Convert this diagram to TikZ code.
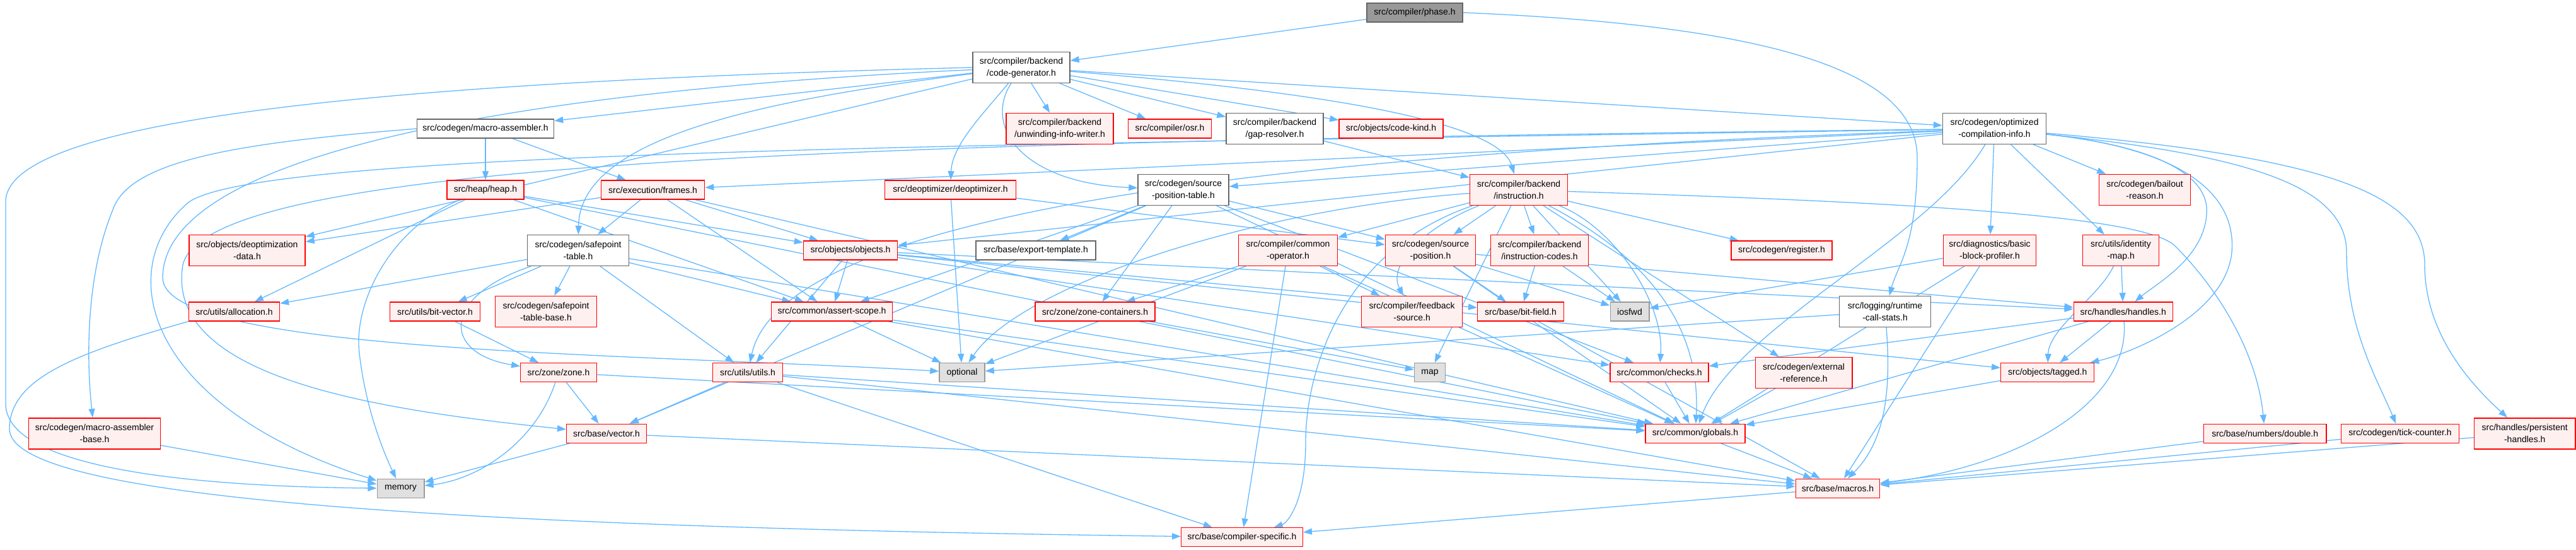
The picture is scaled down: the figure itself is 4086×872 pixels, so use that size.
\documentclass[tikz,border=0pt]{standalone}
\usepackage{fontspec}
\setmainfont{Liberation Sans}
\usetikzlibrary{arrows.meta}
\definecolor{edgeblue}{HTML}{63B8FF}
\definecolor{redfill}{HTML}{FFF0F0}
\definecolor{redline}{HTML}{FF0000}
\definecolor{greyline}{HTML}{666666}
\definecolor{extfill}{HTML}{E0E0E0}
\definecolor{extline}{HTML}{999999}
\definecolor{rootfill}{HTML}{999999}
\pgfdeclarelayer{bg}
\pgfsetlayers{bg,main}
\tikzset{
  nbase/.style={rectangle, inner sep=0pt, line width=1.4pt, align=center,
    font=\fontsize{14}{19}\selectfont, minimum height=30pt},
  tall/.style={minimum height=49pt},
  rednode/.style={nbase, draw=redline, fill=redfill},
  docnode/.style={nbase, draw=greyline, fill=white},
  extnode/.style={nbase, draw=extline, fill=extfill},
  rootnode/.style={nbase, draw=greyline, fill=rootfill},
  lnk/.style={draw=edgeblue, line width=1.3pt, -{Triangle[length=14pt,width=10pt]}},
}
\begin{document}
\begin{tikzpicture}[x=1pt,y=-1pt]
\useasboundingbox (0,0) rectangle (4086,872);
% row 1
\node[rootnode, minimum width=152pt] (phase) at (2244,20) {src/compiler/phase.h};
% row 2
\node[docnode, tall, minimum width=154pt] (codegen) at (1620,107) {src/compiler/backend\\/code-generator.h};
% row 3
\node[docnode, minimum width=217pt] (macroasm) at (770,204) {src/codegen/macro-assembler.h};
\node[rednode, tall, minimum width=170pt] (unwind) at (1681,204) {src/compiler/backend\\/unwinding-info-writer.h};
\node[rednode, minimum width=132pt] (osr) at (1855.5,204) {src/compiler/osr.h};
\node[docnode, tall, minimum width=154pt] (gapres) at (2022,204) {src/compiler/backend\\/gap-resolver.h};
\node[rednode, minimum width=165pt] (codekind) at (2206.5,204) {src/objects/code-kind.h};
\node[docnode, tall, minimum width=164pt] (optinfo) at (3163.5,204) {src/codegen/optimized\\-compilation-info.h};
% row 4
\node[rednode, minimum width=122pt] (heap) at (770,301) {src/heap/heap.h};
\node[rednode, minimum width=164pt] (frames) at (1035.6,301) {src/execution/frames.h};
\node[rednode, minimum width=207.5pt] (deopt) at (1507.5,301) {src/deoptimizer/deoptimizer.h};
\node[docnode, tall, minimum width=144pt] (spt) at (1877,301) {src/codegen/source\\-position-table.h};
\node[rednode, tall, minimum width=155pt] (instr) at (2409,301) {src/compiler/backend\\/instruction.h};
\node[rednode, tall, minimum width=145pt] (bailout) at (3402,301) {src/codegen/bailout\\-reason.h};
% row 5
\node[rednode, tall, minimum width=184pt] (deoptdata) at (392,397) {src/objects/deoptimization\\-data.h};
\node[docnode, tall, minimum width=161pt] (safepoint) at (917,397) {src/codegen/safepoint\\-table.h};
\node[rednode, minimum width=149pt] (objects) at (1349,397) {src/objects/objects.h};
\node[docnode, minimum width=190pt] (exporttpl) at (1643,397) {src/base/export-template.h};
\node[rednode, tall, minimum width=157pt] (operator) at (2043,397) {src/compiler/common\\-operator.h};
\node[rednode, tall, minimum width=143pt] (srcpos) at (2269,397) {src/codegen/source\\-position.h};
\node[rednode, tall, minimum width=154.5pt] (instrcodes) at (2442,397) {src/compiler/backend\\/instruction-codes.h};
\node[rednode, minimum width=160pt] (register) at (2826,397) {src/codegen/register.h};
\node[rednode, tall, minimum width=146.5pt] (bbprof) at (3156,397) {src/diagnostics/basic\\-block-profiler.h};
\node[rednode, tall, minimum width=121pt] (idmap) at (3364,397) {src/utils/identity\\-map.h};
% row 6
\node[rednode, minimum width=144pt] (alloc) at (371.5,494) {src/utils/allocation.h};
\node[rednode, minimum width=143pt] (bitvec) at (690,494) {src/utils/bit-vector.h};
\node[rednode, tall, minimum width=161pt] (sptbase) at (866,494) {src/codegen/safepoint\\-table-base.h};
\node[rednode, minimum width=192.5pt] (assert) at (1319.5,494) {src/common/assert-scope.h};
\node[rednode, minimum width=190pt] (zonecont) at (1737,494) {src/zone/zone-containers.h};
\node[rednode, tall, minimum width=160pt] (feedback) at (2239.6,494) {src/compiler/feedback\\-source.h};
\node[rednode, minimum width=136.6pt] (bitfield) at (2412,494) {src/base/bit-field.h};
\node[extnode, minimum width=61.6pt] (iosfwd) at (2585,494) {iosfwd};
\node[docnode, tall, minimum width=144.6pt] (rcs) at (2990,494) {src/logging/runtime\\-call-stats.h};
\node[rednode, minimum width=157pt] (handles) at (3367.7,494) {src/handles/handles.h};
% row 7
\node[rednode, minimum width=120.5pt] (zone) at (886,590.7) {src/zone/zone.h};
\node[rednode, minimum width=110.7pt] (utils) at (1186,590.7) {src/utils/utils.h};
\node[extnode, minimum width=72pt] (optional) at (1526,590.7) {optional};
\node[extnode, minimum width=49pt] (map) at (2268,590.7) {map};
\node[rednode, minimum width=156pt] (checks) at (2632,590.7) {src/common/checks.h};
\node[rednode, tall, minimum width=153.6pt] (extref) at (2861,590.7) {src/codegen/external\\-reference.h};
\node[rednode, minimum width=148pt] (tagged) at (3247.7,590.7) {src/objects/tagged.h};
% row 8
\node[rednode, tall, minimum width=208.5pt] (masmbase) at (150,687.3) {src/codegen/macro-assembler\\-base.h};
\node[rednode, minimum width=126.8pt] (vector) at (962,687.3) {src/base/vector.h};
\node[rednode, minimum width=157.8pt] (globals) at (2689,687.3) {src/common/globals.h};
\node[rednode, minimum width=194.6pt] (double) at (3592.7,687.3) {src/base/numbers/double.h};
\node[rednode, minimum width=186.6pt] (tick) at (3807,687.3) {src/codegen/tick-counter.h};
\node[rednode, tall, minimum width=160.7pt] (phandles) at (4004.7,687.3) {src/handles/persistent\\-handles.h};
% row 9
\node[extnode, minimum width=74.6pt] (memory) at (635.5,774.3) {memory};
\node[rednode, minimum width=133.5pt] (macros) at (2915,774.3) {src/base/macros.h};
% row 10
\node[rednode, minimum width=192.5pt] (compspec) at (1970,851.7) {src/base/compiler-specific.h};

\begin{pgfonlayer}{bg}
% phase
\draw[lnk] (phase) -- (codegen);
\draw[lnk] (phase.east) .. controls (2800,40) and (3041,110) .. (3041,250) .. controls (3041,390) and (3010,420) .. (rcs);
% code generator
\draw[lnk] (codegen) -- (macroasm);
\draw[lnk] (codegen) -- (unwind);
\draw[lnk] (codegen) -- (osr);
\draw[lnk] (codegen) -- (gapres);
\draw[lnk] (codegen) -- (codekind);
\draw[lnk] (codegen) -- (optinfo);
\draw[lnk] (codegen) .. controls (2150,150) and (2380,200) .. (instr);
\draw[lnk] (codegen) .. controls (1560,180) and (1510,230) .. (deopt);
\draw[lnk] (codegen) .. controls (1560,200) and (1620,290) .. (spt);
\draw[lnk] (codegen) .. controls (1200,160) and (920,220) .. (safepoint);
\draw[lnk] (codegen) -- (deoptdata);
\draw[lnk] (codegen.west) .. controls (600,130) and (9,190) .. (9,320) -- (9,640) .. controls (9,750) and (350,772) .. (memory);
\draw[lnk] (codegen) .. controls (900,140) and (260,230) .. (258,440) .. controls (258,560) and (1000,560) .. (optional);
% macro assembler
\draw[lnk] (macroasm) -- (heap);
\draw[lnk] (macroasm) -- (frames);
\draw[lnk] (macroasm.west) .. controls (400,225) and (210,250) .. (180,330) .. controls (130,450) and (140,600) .. (masmbase);
\draw[lnk] (gapres) -- (instr);
% optimized compilation info
\draw[lnk] (optinfo) -- (bailout);
\draw[lnk] (optinfo) -- (bbprof);
\draw[lnk] (optinfo) -- (idmap);
\draw[lnk] (optinfo) -- (spt);
\draw[lnk] (optinfo) -- (frames);
\draw[lnk] (optinfo) -- (objects);
\draw[lnk] (optinfo) .. controls (1400,225) and (330,250) .. (290,420) .. controls (260,600) and (600,650) .. (vector);
\draw[lnk] (optinfo) .. controls (1500,230) and (420,240) .. (300,320) .. controls (180,420) and (220,640) .. (memory);
\draw[lnk] (optinfo) .. controls (3450,235) and (3505,290) .. (3500,340) .. controls (3495,410) and (3420,450) .. (handles);
\draw[lnk] (optinfo) .. controls (3500,240) and (3546,330) .. (3540,400) .. controls (3530,500) and (3380,560) .. (tagged);
\draw[lnk] (optinfo) .. controls (3550,245) and (3722,290) .. (3722,400) .. controls (3722,520) and (3770,600) .. (tick);
\draw[lnk] (optinfo) .. controls (3700,250) and (3846,310) .. (3846,420) .. controls (3846,530) and (3920,610) .. (phandles);
\draw[lnk] (optinfo) .. controls (3060,380) and (2750,520) .. (globals);
\draw[lnk] (optinfo) .. controls (2300,235) and (1250,300) .. (utils);
% heap
\draw[lnk] (heap) -- (alloc);
\draw[lnk] (heap) .. controls (620,360) and (560,480) .. (570,560) .. controls (580,650) and (610,720) .. (memory);
\draw[lnk] (heap) -- (objects);
\draw[lnk] (heap) -- (assert);
\draw[lnk] (heap) -- (globals);
% frames
\draw[lnk] (frames) -- (deoptdata);
\draw[lnk] (frames) -- (safepoint);
\draw[lnk] (frames) -- (objects);
\draw[lnk] (frames) -- (assert);
\draw[lnk] (frames) -- (globals);
% deoptimizer
\draw[lnk] (deopt) -- (optional);
\draw[lnk] (deopt) -- (srcpos);
% source position table
\draw[lnk] (spt) -- (exporttpl);
\draw[lnk] (spt) -- (srcpos);
\draw[lnk] (spt) -- (assert);
\draw[lnk] (spt) -- (zonecont);
\draw[lnk] (spt) -- (vector);
\draw[lnk] (spt) -- (checks);
\draw[lnk] (spt) -- (globals);
% instruction
\draw[lnk] (instr) -- (operator);
\draw[lnk] (instr) -- (srcpos);
\draw[lnk] (instr) -- (instrcodes);
\draw[lnk] (instr) -- (register);
\draw[lnk] (instr) .. controls (2260,360) and (2200,420) .. (feedback);
\draw[lnk] (instr) -- (iosfwd);
\draw[lnk] (instr) -- (map);
\draw[lnk] (instr) .. controls (2000,330) and (1620,450) .. (optional);
\draw[lnk] (instr) .. controls (2120,400) and (2071,600) .. (2071,700) .. controls (2071,800) and (2040,830) .. (compspec);
\draw[lnk] (instr) .. controls (3000,320) and (3400,340) .. (3450,390) .. controls (3520,460) and (3580,560) .. (double);
\draw[lnk] (instr) -- (extref);
\draw[lnk] (instr) .. controls (2560,380) and (2700,480) .. (globals);
\draw[lnk] (instr) .. controls (2560,360) and (2640,480) .. (checks);
% operator
\draw[lnk] (operator) -- (compspec);
\draw[lnk] (operator) -- (globals);
\draw[lnk] (operator) -- (feedback);
\draw[lnk] (operator) -- (zonecont);
\draw[lnk] (operator) -- (optional);
% source position
\draw[lnk] (srcpos) -- (bitfield);
\draw[lnk] (srcpos) -- (iosfwd);
\draw[lnk] (srcpos) -- (globals);
\draw[lnk] (srcpos) -- (handles);
\draw[lnk] (instrcodes) -- (bitfield);
\draw[lnk] (instrcodes) -- (iosfwd);
% profiler, identity map
\draw[lnk] (bbprof) -- (iosfwd);
\draw[lnk] (bbprof) -- (globals);
\draw[lnk] (bbprof) -- (macros);
\draw[lnk] (idmap) -- (handles);
\draw[lnk] (idmap) .. controls (3330,470) and (3250,520) .. (tagged);
% safepoint table
\draw[lnk] (safepoint) -- (alloc);
\draw[lnk] (safepoint) -- (bitvec);
\draw[lnk] (safepoint) -- (sptbase);
\draw[lnk] (safepoint) -- (assert);
\draw[lnk] (safepoint) -- (utils);
\draw[lnk] (safepoint) .. controls (700,470) and (700,560) .. (zone);
\draw[lnk] (safepoint) -- (globals);
% objects
\draw[lnk] (objects) -- (assert);
\draw[lnk] (objects) -- (utils);
\draw[lnk] (objects) -- (bitfield);
\draw[lnk] (objects) -- (checks);
\draw[lnk] (objects) -- (tagged);
\draw[lnk] (objects) -- (handles);
% row 6
\draw[lnk] (alloc.south west) .. controls (120,560) and (15,600) .. (15,680) .. controls (15,790) and (700,835) .. (compspec);
\draw[lnk] (bitvec) -- (zone);
\draw[lnk] (assert) -- (optional);
\draw[lnk] (assert) -- (globals);
\draw[lnk] (assert) -- (macros);
\draw[lnk] (zonecont) -- (map);
\draw[lnk] (bitfield) -- (macros);
\draw[lnk] (rcs) .. controls (3000,620) and (2990,700) .. (macros);
\draw[lnk] (rcs) -- (optional);
\draw[lnk] (handles) -- (checks);
\draw[lnk] (handles) -- (tagged);
\draw[lnk] (handles) .. controls (3380,640) and (3200,740) .. (macros);
\draw[lnk] (handles) -- (globals);
% row 7
\draw[lnk] (zone) -- (vector);
\draw[lnk] (zone) .. controls (850,700) and (760,760) .. (memory);
\draw[lnk] (zone) -- (globals);
\draw[lnk] (utils) -- (vector);
\draw[lnk] (utils) -- (compspec);
\draw[lnk] (utils) -- (globals);
\draw[lnk] (utils) -- (macros);
\draw[lnk] (checks) -- (globals);
\draw[lnk] (extref) -- (globals);
\draw[lnk] (tagged) -- (globals);
% row 8
\draw[lnk] (masmbase) -- (memory);
\draw[lnk] (vector) -- (memory);
\draw[lnk] (vector) -- (macros);
\draw[lnk] (globals) -- (macros);
\draw[lnk] (double) -- (macros);
\draw[lnk] (tick) -- (macros);
\draw[lnk] (phandles) -- (macros);
\draw[lnk] (macros) -- (compspec);
\end{pgfonlayer}
\end{tikzpicture}
\end{document}
